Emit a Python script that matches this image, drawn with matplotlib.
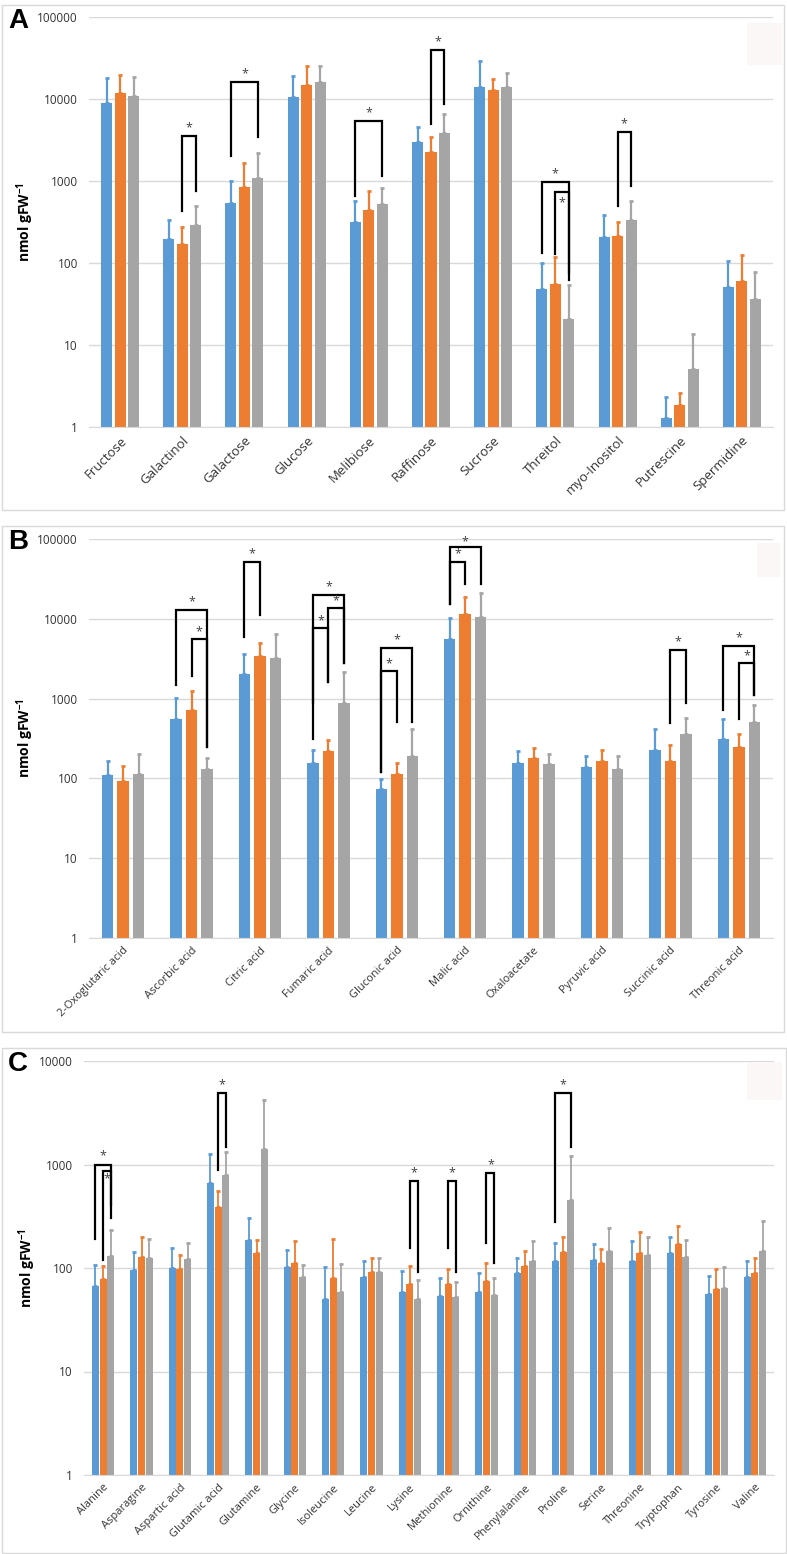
import numpy as np
import matplotlib
matplotlib.use("Agg")
import matplotlib.pyplot as plt
import matplotlib.patches as mpatches

plt.rcParams['font.family'] = ['Open Sans', 'DejaVu Sans']
plt.rcParams['mathtext.fontset'] = 'custom'
plt.rcParams['mathtext.rm'] = 'Open Sans'
plt.rcParams['mathtext.bf'] = 'Open Sans:bold'

BLUE = '#5B9BD5'
ORANGE = '#ED7D31'
GRAY = '#A5A5A5'

# ---------------- panel A : sugars / polyols / polyamines
cats_a = ["Fructose", "Galactinol", "Galactose", "Glucose", "Melibiose", "Raffinose",
          "Sucrose", "Threitol", "myo-Inositol", "Putrescine", "Spermidine"]
blue_a = [8900, 195, 540, 10600, 320, 3000, 14000, 48, 210, 1.3, 51]
blue_a_sd = [9100, 140, 460, 8400, 250, 1500, 15000, 52, 175, 1.0, 54]
orange_a = [11800, 170, 850, 15000, 445, 2250, 12800, 55, 215, 1.85, 60]
orange_a_sd = [7700, 105, 800, 10000, 315, 1200, 4700, 63, 100, 0.75, 65]
gray_a = [11000, 290, 1090, 16000, 525, 3850, 14000, 21, 335, 5.1, 36]
gray_a_sd = [7500, 210, 1110, 9000, 295, 2750, 7000, 33, 235, 8.5, 42]
# (category, left series, right series, top, left leg end, right leg end, star offset)
sig_a = [(1, 1, 2, 3550, 430, 760, 6),
         (2, 0, 2, 16000, 2000, 3450, 6),
         (4, 0, 2, 5400, 650, 1150, 6),
         (5, 1, 2, 40000, 5000, 8700, 6),
         (7, 0, 2, 970, 132, 76, 6),
         (7, 1, 2, 740, 129, 62, -8),
         (8, 1, 2, 4000, 500, 870, 6)]

# ---------------- panel B : organic acids
cats_b = ["2-Oxoglutaric acid", "Ascorbic acid", "Citric acid", "Fumaric acid",
          "Gluconic acid", "Malic acid", "Oxaloacetate", "Pyruvic acid",
          "Succinic acid", "Threonic acid"]
blue_b = [109, 550, 2050, 158, 73, 5600, 158, 138, 225, 310]
blue_b_sd = [58, 480, 1600, 72, 25, 4700, 60, 52, 185, 250]
orange_b = [92, 710, 3450, 218, 115, 11500, 178, 167, 167, 250]
orange_b_sd = [53, 550, 1550, 82, 43, 7500, 62, 58, 93, 115]
gray_b = [115, 130, 3250, 890, 190, 10600, 150, 132, 355, 515]
gray_b_sd = [85, 48, 3250, 1240, 230, 10400, 55, 58, 220, 320]
sig_b = [(1, 0, 2, 13000, 1500, 245, 6),
         (1, 1, 2, 5600, 1900, 250, 5),
         (2, 0, 1, 51000, 6000, 11000, 6),
         (3, 0, 2, 20000, 310, 2800, 6),
         (3, 0, 1, 7700, 890, 1600, 5),
         (3, 1, 2, 13700, 1600, 2800, 5),
         (4, 0, 2, 4350, 120, 515, 6),
         (4, 0, 1, 2240, 120, 515, 5),
         (5, 0, 2, 79000, 15500, 27500, 4),
         (5, 0, 1, 51500, 15500, 27500, 6),
         (8, 1, 2, 4100, 490, 870, 6),
         (9, 0, 2, 4600, 730, 1120, 6),
         (9, 1, 2, 2800, 550, 1120, 5)]

# ---------------- panel C : amino acids
cats_c = ["Alanine", "Asparagine", "Aspartic acid", "Glutamic acid", "Glutamine",
          "Glycine", "Isoleucine", "Leucine", "Lysine", "Methionine", "Ornithine",
          "Phenylalanine", "Proline", "Serine", "Threonine", "Tryptophan",
          "Tyrosine", "Valine"]
blue_c = [67, 96, 100, 660, 187, 102, 50, 82, 59, 54, 59, 90, 117, 120, 117, 140, 56, 82]
blue_c_sd = [40, 46, 55, 600, 118, 47, 52, 35, 35, 26, 31, 35, 58, 50, 65, 60, 28, 35]
orange_c = [78, 128, 98, 390, 140, 112, 80, 92, 70, 70, 75, 105, 142, 112, 140, 170, 63, 90]
orange_c_sd = [27, 72, 36, 160, 47, 70, 110, 33, 35, 28, 37, 40, 58, 40, 82, 85, 35, 35]
gray_c = [131, 125, 122, 790, 1420, 82, 59, 92, 50, 52, 55, 117, 455, 145, 134, 128, 64, 145]
gray_c_sd = [101, 65, 53, 530, 2780, 25, 51, 33, 26, 22, 25, 65, 755, 100, 66, 59, 38, 140]
sig_c = [(0, 0, 2, 1000, 190, 305, 6),
         (0, 1, 2, 870, 120, 405, -6),
         (3, 1, 2, 4900, 890, 1480, 6),
         (8, 1, 2, 690, 156, 92, 6),
         (9, 1, 2, 690, 156, 92, 6),
         (10, 1, 2, 830, 175, 112, 6),
         (12, 0, 2, 4900, 277, 1480, 6)]

W, H = 787, 1554
fig = plt.figure(figsize=(W / 100, H / 100), dpi=100)


def fbox(x0, y0, x1, y1):
    # pixel box (top-left origin) -> figure fraction rect
    return [x0 / W, 1 - y1 / H, (x1 - x0) / W, (y1 - y0) / H]


def panel(box, frame, ghost, letter, cats, series, sig, step, width, ymax, xfs, ecap, elw):
    # outer frame of the panel
    fx0, fy0, fx1, fy1 = frame
    fig.patches.append(mpatches.Rectangle((fx0 / W, 1 - fy1 / H), (fx1 - fx0) / W, (fy1 - fy0) / H,
                                          transform=fig.transFigure, fill=False,
                                          edgecolor='#d9d9d9', lw=1.0))
    # faint empty legend box left in the corner
    gx0, gy0, gx1, gy1 = ghost
    fig.patches.append(mpatches.Rectangle((gx0 / W, 1 - gy1 / H), (gx1 - gx0) / W, (gy1 - gy0) / H,
                                          transform=fig.transFigure, facecolor='#fcf7f7',
                                          edgecolor='none'))
    fig.text((fx0 + 6) / W, 1 - (fy0 + 3) / H, letter, fontsize=20, fontweight='bold',
             family='Liberation Sans', ha='left', va='top')

    ax = fig.add_axes(fbox(*box))
    ax.set_yscale('log')
    x = np.arange(len(cats))
    offs = [-step, 0, step]
    for k, (vals, sd, col) in enumerate(series):
        ax.bar(x + offs[k], vals, width=width, color=col, zorder=2)
        ax.errorbar(x + offs[k], vals, yerr=[np.zeros(len(vals)), sd], fmt='none',
                    ecolor=col, elinewidth=elw, capsize=ecap, capthick=2, zorder=3)

    for c, i, j, top, lb, rb, so in sig:
        xl = c + offs[i]
        xr = c + offs[j]
        ax.plot([xl, xl, xr, xr], [lb, top, top, rb], color='black', lw=1.6,
                solid_joinstyle='miter', zorder=4, clip_on=False)
        ax.annotate('*', ((xl + xr) / 2, top), xytext=(0, so), textcoords='offset points',
                    ha='center', va='center', fontsize=9, color='#404040', zorder=5)

    ax.set_xlim(-0.5, len(cats) - 0.5)
    ax.set_ylim(1, ymax)
    ticks = [10 ** e for e in range(int(np.log10(ymax)) + 1)]
    ax.set_yticks(ticks)
    ax.set_yticklabels([str(t) for t in ticks], fontsize=8.5, color='#333333')
    ax.yaxis.set_minor_locator(matplotlib.ticker.NullLocator())
    ax.set_xticks(x)
    ax.set_xticklabels(cats, rotation=45, ha='right', va='top', rotation_mode='anchor',
                       fontsize=xfs, color='#333333')
    ax.tick_params(axis='both', length=0)
    ax.tick_params(axis='y', pad=8)
    ax.tick_params(axis='x', pad=5)
    ax.grid(axis='y', color='#d9d9d9', lw=1.0, zorder=0)
    ax.set_axisbelow(True)
    for s in ['top', 'right', 'left']:
        ax.spines[s].set_visible(False)
    ax.spines['bottom'].set_color('#d9d9d9')
    ax.set_ylabel(r'nmol gFW$^{\mathbf{-1}}$', fontsize=10, fontweight='bold', labelpad=1)
    return ax


panel((89, 17, 773, 427), (2, 5, 784, 510), (747, 23, 782, 65), 'A', cats_a,
      [(blue_a, blue_a_sd, BLUE), (orange_a, orange_a_sd, ORANGE), (gray_a, gray_a_sd, GRAY)],
      sig_a, 0.217, 0.177, 1e5, 9.5, 1.5, 1.6)
panel((89, 539, 773, 938), (2, 526, 784, 1032), (757, 543, 780, 577), 'B', cats_b,
      [(blue_b, blue_b_sd, BLUE), (orange_b, orange_b_sd, ORANGE), (gray_b, gray_b_sd, GRAY)],
      sig_b, 0.227, 0.168, 1e5, 8, 1.5, 1.6)
panel((84, 1061, 774, 1475), (2, 1048, 786, 1553), (747, 1062, 782, 1100), 'C', cats_c,
      [(blue_c, blue_c_sd, BLUE), (orange_c, orange_c_sd, ORANGE), (gray_c, gray_c_sd, GRAY)],
      sig_c, 0.204, 0.183, 1e4, 8, 1.3, 1.3)

fig.savefig('out.png', dpi=100)
